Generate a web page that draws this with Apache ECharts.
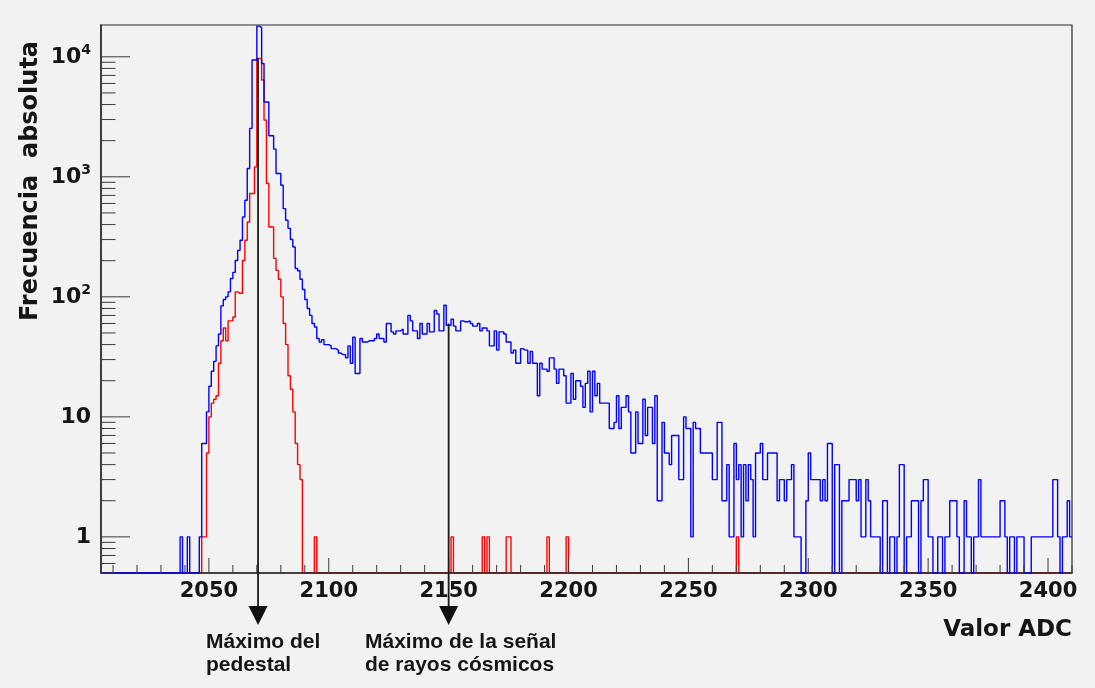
<!DOCTYPE html>
<html>
<head>
<meta charset="utf-8">
<script src="https://cdn.jsdelivr.net/npm/echarts@6/dist/echarts.min.js"></script>
<style>
html,body{margin:0;padding:0;background:#ffffff;}
#chart{width:1095px;height:688px;}
</style>
</head>
<body>
<div id="chart"></div>
<script>
// ---------------- data ----------------
const binLow = 2005;          // low edge of the first bin (ADC)
const binHigh = 2410;         // high edge of the last bin (ADC)
const xTickLabels = [2050, 2100, 2150, 2200, 2250, 2300, 2350, 2400];
const yTickLabels = [1, 10, 100, 1000, 10000];

// blue histogram: bins 2005 ... 2409 (one ADC unit each)
const blueCounts = [
  0,0,0,0,0,0,0,0,0,0, 0,0,0,0,0,0,0,0,0,0, 0,0,0,0,0,0,0,0,0,0, 0,0,0,
  1,0,0,1,0,0,0,0,1,
  6,6,11,18,24,29,39,49,84,95,
  100,110,142,160,201,244,296,462,638,1173,
  2530,9400,9400,18000,17500,8800,4200,4200,2200,2200,
  1700,1066,1066,851,543,435,372,300,260,172,
  165,140,115,95,80,70,60,56,45,42,
  44,40,40,39,37,37,36,34,33,33,
  31,39,28,46,23,23,45,42,42,43,
  43,43,45,49,45,45,42,60,60,51,
  49,52,52,54,49,49,70,63,52,52,
  45,60,49,49,60,51,51,77,72,52,
  52,85,58,58,65,57,52,52,63,62,
  62,63,60,57,57,60,52,55,55,52,
  39,39,52,36,51,51,49,42,42,34,
  36,28,28,37,36,36,28,35,28,28,
  15,28,25,25,24,31,31,25,19,25,
  25,22,13,13,23,14,20,20,18,12,
  19,24,11,24,15,19,13,13,13,13,
  8,8,9,15,8,12,12,15,11,5,
  5,11,6,6,14,7,12,12,6,15,
  2,2,9,5,5,4,7,7,7,3,
  3,10,8,8,1,9,8,8,5,5,
  5,5,5,3,3,9,9,2,2,4,
  1,1,6,3,4,1,4,2,4,3,
  1,5,5,6,3,3,5,5,5,5,
  2,3,3,2,3,3,4,1,1,1,
  0,0,2,5,3,3,3,3,2,3,
  2,6,6,0,4,4,0,2,2,2,
  3,3,3,2,3,1,1,3,2,1,
  1,1,1,0,2,2,0,1,1,0,
  1,4,4,0,1,1,2,2,2,0,
  2,3,3,1,1,0,0,1,1,0,
  1,1,2,2,2,1,0,0,2,1,
  1,0,1,1,3,1,1,1,1,1,
  1,1,1,2,2,1,0,1,1,0,
  1,1,1,0,0,0,1,1,1,1,
  1,1,1,1,1,3,3,1,0,1,
  1,2,1
];

// red histogram: bins 2005 ... 2409
const redCounts = [
  0,0,0,0,0,0,0,0,0,0, 0,0,0,0,0,0,0,0,0,0, 0,0,0,0,0,0,0,0,0,0, 0,0,0,0,0,0,0,0,0,0, 0,0,
  1,1,5,10,13,14,15,28,43,55,
  43,63,63,68,110,107,107,201,296,420,
  725,725,1210,9700,9600,6400,2970,880,382,382,
  209,166,140,100,60,40,22,17,11,6,
  4,3,0,0,0,0,0,1,0,0,
  0,0,0,0,0,0,0,0,0,0, 0,0,0,0,0,0,0,0,0,0, 0,0,0,0,0,0,0,0,0,0, 0,0,0,0,0,0,0,0,0,0, 0,0,0,0,0,0,0,0,0,0,
  0,0,0,0,1,0,0,0,0,0, 0,0,0,0,0,0,0,1,0,1, 0,0,0,0,0,0,0,1,1,0, 0,0,0,0,0,0,0,0,0,0, 0,0,0,0,1,0,0,0,0,0,
  0,0,1,0,0,0,0,0,0,0, 0,0,0,0,0,0,0,0,0,0, 0,0,0,0,0,0,0,0,0,0, 0,0,0,0,0,0,0,0,0,0, 0,0,0,0,0,0,0,0,0,0,
  0,0,0,0,0,0,0,0,0,0, 0,0,0,0,0,0,0,0,0,0, 0,0,0,1,0,0,0,0,0,0, 0,0,0,0,0,0,0,0,0,0, 0,0,0,0,0,0,0,0,0,0,
  0,0,0,0,0,0,0,0,0,0, 0,0,0,0,0,0,0,0,0,0, 0,0,0,0,0,0,0,0,0,0, 0,0,0,0,0,0,0,0,0,0, 0,0,0,0,0,0,0,0,0,0,
  0,0,0,0,0,0,0,0,0,0, 0,0,0,0,0,0,0,0,0,0, 0,0,0,0,0,0,0,0,0,0, 0,0,0,0,0,0,0,0,0,0, 0,0,0,0,0,0,0,0,0,0,
  0,0,0,0,0,0,0,0,0,0, 0,0,0
];

// annotation arrows: ADC position and the count where each arrow starts
const arrowADC = [2070.5, 2150];
const arrowFrom = [9700, 60];
const arrowLabels = ['Máximo del\npedestal', 'Máximo de la señal\nde rayos cósmicos'];

const yTitle = 'Frecuencia  absoluta';
const xTitle = 'Valor ADC';

// ---------------- chart ----------------
const Y_MIN = 0.5, Y_MAX = 18400;
const GRID = {left: 101, right: 23, top: 25, bottom: 115};

function toSteps(counts) {
  const pts = counts.map((v, i) => [binLow + i, v > 0 ? v : Y_MIN]);
  const last = counts[counts.length - 1];
  pts.push([binHigh, last > 0 ? last : Y_MIN]);
  return pts;
}

const ROOT_FONT = '"DejaVu Sans", "Liberation Sans", sans-serif';
const NOTE_FONT = '"Liberation Sans", Arial, sans-serif';
const INK = '#151515';

function renderTicks(params, api) {
  const children = [];
  const origin = api.coord([binLow, Y_MIN]);
  const left = origin[0], bottom = origin[1];
  const stroke = '#3a3a3a';
  for (let k = -1; k <= 4; k++) {
    for (let m = 1; m <= 9; m++) {
      const v = m * Math.pow(10, k);
      if (v < Y_MIN || v > Y_MAX) continue;
      const y = api.coord([binLow, v])[1];
      const len = (m === 1) ? 29 : 14.5;
      children.push({type: 'line', shape: {x1: left, y1: y, x2: left + len, y2: y},
        style: {stroke: stroke, lineWidth: 1}});
    }
  }
  for (let x = Math.ceil(binLow / 10) * 10; x <= binHigh; x += 10) {
    const px = api.coord([x, Y_MIN])[0];
    const len = (x % 50 === 0) ? 15 : 8;
    children.push({type: 'line', shape: {x1: px, y1: bottom, x2: px, y2: bottom - len},
      style: {stroke: stroke, lineWidth: 1}});
  }
  return {type: 'group', children: children};
}

function renderArrow(params, api) {
  const top = api.coord([api.value(0), api.value(1)]);
  const x = top[0];
  const headTop = 606, headTip = 625;
  return {
    type: 'group',
    children: [
      {type: 'line', shape: {x1: x, y1: top[1], x2: x, y2: headTop + 2},
        style: {stroke: '#1a1a1a', lineWidth: 1.8}},
      {type: 'polygon', shape: {points: [[x - 9.5, headTop], [x + 9.5, headTop], [x, headTip]]},
        style: {fill: '#111'}}
    ]
  };
}

const chart = echarts.init(document.getElementById('chart'), null, {renderer: 'canvas'});

chart.setOption({
  animation: false,
  backgroundColor: '#f2f2f2',
  grid: Object.assign({show: true, borderColor: '#2a2a2a', borderWidth: 1.2, backgroundColor: 'transparent', containLabel: false}, GRID),
  xAxis: {
    type: 'value', min: binLow, max: binHigh, interval: 5, z: 3,
    axisLine: {show: true, onZero: false, lineStyle: {color: '#2a2a2a', width: 1.5}},
    axisTick: {show: false},
    splitLine: {show: false},
    axisLabel: {
      margin: 8,
      color: INK, fontFamily: ROOT_FONT, fontWeight: 'bold', fontSize: 21,
      formatter: function (v) { return xTickLabels.indexOf(Math.round(v)) >= 0 && Math.abs(v - Math.round(v)) < 1e-6 ? String(Math.round(v)) : ''; }
    }
  },
  yAxis: {
    type: 'log', logBase: 10, min: Y_MIN, max: Y_MAX, z: 3,
    axisLine: {show: true, lineStyle: {color: '#2a2a2a', width: 1.5}},
    axisTick: {show: false},
    splitLine: {show: false},
    minorTick: {show: false},
    axisLabel: {
      margin: 10,
      formatter: function (v) {
        const e = Math.log10(v);
        const r = Math.round(e);
        if (Math.abs(e - r) > 1e-6) return '';
        if (yTickLabels.indexOf(Math.pow(10, r)) < 0) return '';
        if (r === 0) return '{b|1}';
        if (r === 1) return '{b|10}';
        return '{b|10}{s|' + r + '}';
      },
      rich: {
        b: {color: INK, fontFamily: ROOT_FONT, fontWeight: 'bold', fontSize: 22, lineHeight: 26},
        s: {color: INK, fontFamily: ROOT_FONT, fontWeight: 'bold', fontSize: 14, lineHeight: 14, verticalAlign: 'top'}
      }
    }
  },
  series: [
    {
      name: 'rojo', type: 'line', step: 'end', data: toSteps(redCounts),
      showSymbol: false, symbol: 'none', z: 2, clip: true,
      lineStyle: {color: '#ff0000', width: 1.4}
    },
    {
      name: 'azul', type: 'line', step: 'end', data: toSteps(blueCounts),
      showSymbol: false, symbol: 'none', z: 4, clip: false,
      lineStyle: {color: '#0000ff', width: 1.4}
    },
    {
      name: 'ticks', type: 'custom', renderItem: renderTicks, data: [[binLow, Y_MIN]],
      z: 5, silent: true, clip: false
    },
    {
      name: 'flechas', type: 'custom', renderItem: renderArrow,
      data: arrowADC.map((x, i) => [x, arrowFrom[i]]),
      z: 6, silent: true, clip: false
    }
  ],
  graphic: [
    {type: 'text', x: 31, y: 181, rotation: Math.PI / 2, z: 10,
      style: {text: yTitle, font: 'bold 24px ' + ROOT_FONT, fill: INK,
        align: 'center', verticalAlign: 'middle', textAlign: 'center', textVerticalAlign: 'middle'}},
    {type: 'text', x: 1072, y: 630, z: 10,
      style: {text: xTitle, font: 'bold 23px ' + ROOT_FONT, fill: INK,
        align: 'right', verticalAlign: 'middle', textAlign: 'right', textVerticalAlign: 'middle'}},
    {type: 'text', x: 206, y: 631, z: 10,
      style: {text: arrowLabels[0], font: 'bold 21px ' + NOTE_FONT, fill: INK, lineHeight: 23,
        align: 'left', verticalAlign: 'top', textAlign: 'left', textVerticalAlign: 'top'}},
    {type: 'text', x: 365, y: 631, z: 10,
      style: {text: arrowLabels[1], font: 'bold 21px ' + NOTE_FONT, fill: INK, lineHeight: 23,
        align: 'left', verticalAlign: 'top', textAlign: 'left', textVerticalAlign: 'top'}}
  ]
});
</script>
</body>
</html>
